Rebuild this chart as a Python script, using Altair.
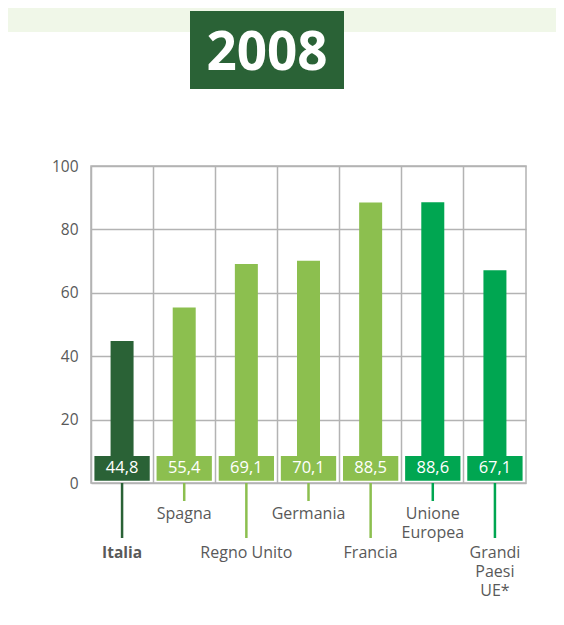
import altair as alt
import pandas as pd

categories = ["Italia", "Spagna", "Regno Unito", "Germania", "Francia", "Unione Europea", "Grandi Paesi UE*"]
display_labels = ["Italia", "Spagna", "Regno Unito", "Germania", "Francia", "Unione\nEuropea", "Grandi\nPaesi\nUE*"]
values = [44.8, 55.4, 69.1, 70.1, 88.5, 88.6, 67.1]
y_ticks = [0, 20, 40, 60, 80, 100]
title_text = "2008"

palette = ["#2a6236", "#8cbf4f", "#8cbf4f", "#8cbf4f", "#8cbf4f", "#00a651", "#00a651"]

df = pd.DataFrame({
    "cat": categories,
    "label": display_labels,
    "value": values,
})
df["vlabel"] = df["value"].map(lambda v: f"{v:.1f}".replace(".", ","))
df["level"] = [i % 2 for i in range(len(df))]

FONT = "Open Sans"
GRAY = "#595959"
GRID = "#b3b3b3"
W, H = 435, 317

xenc = alt.X("cat:N", sort=categories,
             scale=alt.Scale(paddingInner=0, paddingOuter=0),
             axis=alt.Axis(title=None, labels=False, ticks=False, domain=False,
                           grid=True, bandPosition=0, gridColor=GRID, gridWidth=1.5))
yscale = alt.Scale(domain=[0, 100])
color = alt.Color("cat:N", scale=alt.Scale(domain=categories, range=palette), legend=None)

base = alt.Chart(df)

bars = base.mark_bar(width=alt.RelativeBandSize(0.37)).encode(
    x=xenc,
    y=alt.Y("value:Q", scale=yscale,
            axis=alt.Axis(title=None, values=y_ticks, ticks=False, domain=False,
                          gridColor=GRID, gridWidth=1.5, labelFont=FONT,
                          labelFontSize=15.5, labelColor=GRAY, labelPadding=13)),
    y2=alt.datum(8.5),
    color=color,
)

boxes = base.mark_bar(width=alt.RelativeBandSize(0.89)).encode(
    x=alt.X("cat:N", sort=categories),
    y=alt.datum(8.5),
    y2=alt.datum(0.7),
    color=color,
)

vtext = base.mark_text(font=FONT, fontSize=16.5, color="white", baseline="middle").encode(
    x=alt.X("cat:N", sort=categories),
    y=alt.datum(4.6),
    text="vlabel:N",
)

ticks_short = base.transform_filter("datum.level == 1").mark_rule(strokeWidth=2.5).encode(
    x=alt.X("cat:N", sort=categories),
    y=alt.value(H),
    y2=alt.value(H + 18),
    color=color,
)
ticks_long = base.transform_filter("datum.level == 0").mark_rule(strokeWidth=2.5).encode(
    x=alt.X("cat:N", sort=categories),
    y=alt.value(H),
    y2=alt.value(H + 55),
    color=color,
)

lab_row1 = base.transform_filter("datum.level == 1").mark_text(
    font=FONT, fontSize=16, color=GRAY, baseline="alphabetic", lineBreak="\n", lineHeight=19
).encode(x=alt.X("cat:N", sort=categories), y=alt.value(H + 36), text="label:N")

lab_row2 = base.transform_filter("datum.level == 0 && datum.cat != 'Italia'").mark_text(
    font=FONT, fontSize=16, color=GRAY, baseline="alphabetic", lineBreak="\n", lineHeight=19
).encode(x=alt.X("cat:N", sort=categories), y=alt.value(H + 75), text="label:N")

lab_italia = base.transform_filter("datum.cat == 'Italia'").mark_text(
    font=FONT, fontSize=15.5, fontWeight="bold", color=GRAY, baseline="alphabetic"
).encode(x=alt.X("cat:N", sort=categories), y=alt.value(H + 75), text="label:N")

one = alt.Chart(alt.Data(values=[{"t": title_text}]))
band = one.mark_rect(color="#f0f7e8").encode(
    x=alt.value(-83), x2=alt.value(W + 30), y=alt.value(-158), y2=alt.value(-134))
tbox = one.mark_rect(color="#2a6236").encode(
    x=alt.value(99), x2=alt.value(253), y=alt.value(-155), y2=alt.value(-77))
ttext = one.mark_text(font=FONT, fontSize=53, fontWeight="bold", color="white",
                      baseline="alphabetic").encode(
    x=alt.value(176), y=alt.value(-96), text="t:N")

chart = alt.layer(
    band, tbox, ttext, bars, boxes, vtext, ticks_short, ticks_long, lab_row1, lab_row2, lab_italia
).properties(
    width=W, height=H,
    padding={"left": 83, "top": 158, "right": 30, "bottom": 130},
    autosize="none",
    background="white",
).configure_view(stroke=GRID, strokeWidth=1.5)

chart.save("out.html", embed_options={"renderer": "svg", "actions": False})
